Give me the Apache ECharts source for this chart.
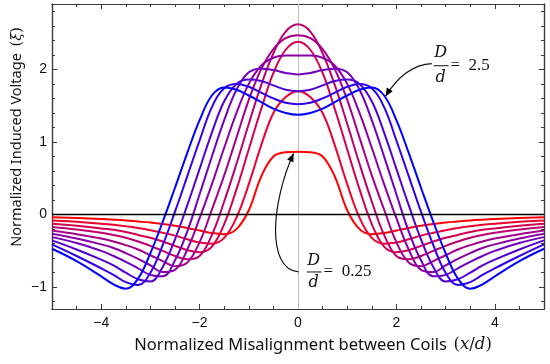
<!DOCTYPE html>
<html><head><meta charset="utf-8">
<script src="https://cdn.jsdelivr.net/npm/echarts@6/dist/echarts.min.js"></script>
<style>html,body{margin:0;padding:0;background:#fff}#c{width:550px;height:364px}</style>
</head><body><div id="c"></div>
<script>
// x positions (normalized misalignment x/d)
const xValues = [-5,-4.5,-4,-3.75,-3.5,-3.25,-3,-2.75,-2.5,-2.25,-2,-1.75,-1.5,-1.25,-1,-0.75,-0.5,-0.25,0,0.25,0.5,0.75,1,1.25,1.5,1.75,2,2.25,2.5,2.75,3,3.25,3.5,3.75,4,4.5,5];
const ratios = ['0.25','0.5','0.75','1.0','1.25','1.5','1.75','2.0','2.25','2.5'];
const curveD025 = [-0.035,-0.047,-0.062,-0.07,-0.08,-0.095,-0.11,-0.13,-0.155,-0.185,-0.22,-0.255,-0.27,-0.20,0.06,0.52,0.80,0.86,0.865,0.86,0.80,0.52,0.06,-0.20,-0.27,-0.255,-0.22,-0.185,-0.155,-0.13,-0.11,-0.095,-0.08,-0.07,-0.062,-0.047,-0.035];
const curveD050 = [-0.08,-0.10,-0.125,-0.14,-0.16,-0.185,-0.215,-0.25,-0.29,-0.34,-0.385,-0.40,-0.32,-0.04,0.42,0.95,1.40,1.62,1.70,1.62,1.40,0.95,0.42,-0.04,-0.32,-0.40,-0.385,-0.34,-0.29,-0.25,-0.215,-0.185,-0.16,-0.14,-0.125,-0.10,-0.08];
const curveD075 = [-0.125,-0.155,-0.19,-0.21,-0.24,-0.28,-0.32,-0.37,-0.43,-0.49,-0.52,-0.44,-0.13,0.35,0.90,1.45,1.95,2.27,2.38,2.27,1.95,1.45,0.90,0.35,-0.13,-0.44,-0.52,-0.49,-0.43,-0.37,-0.32,-0.28,-0.24,-0.21,-0.19,-0.155,-0.125];
const curveD100 = [-0.17,-0.205,-0.25,-0.28,-0.32,-0.37,-0.43,-0.50,-0.57,-0.615,-0.57,-0.28,0.18,0.70,1.25,1.78,2.22,2.52,2.62,2.52,2.22,1.78,1.25,0.70,0.18,-0.28,-0.57,-0.615,-0.57,-0.50,-0.43,-0.37,-0.32,-0.28,-0.25,-0.205,-0.17];
const curveD125 = [-0.22,-0.27,-0.33,-0.37,-0.42,-0.48,-0.56,-0.64,-0.71,-0.66,-0.38,0.07,0.54,1.06,1.58,2.00,2.28,2.43,2.47,2.43,2.28,2.00,1.58,1.06,0.54,0.07,-0.38,-0.66,-0.71,-0.64,-0.56,-0.48,-0.42,-0.37,-0.33,-0.27,-0.22];
const curveD150 = [-0.265,-0.33,-0.41,-0.46,-0.53,-0.61,-0.70,-0.79,-0.76,-0.48,-0.05,0.42,0.92,1.40,1.80,2.05,2.16,2.19,2.19,2.19,2.16,2.05,1.80,1.40,0.92,0.42,-0.05,-0.48,-0.76,-0.79,-0.70,-0.61,-0.53,-0.46,-0.41,-0.33,-0.265];
const curveD175 = [-0.31,-0.39,-0.50,-0.57,-0.65,-0.74,-0.83,-0.85,-0.63,-0.23,0.28,0.80,1.30,1.72,1.96,2.01,1.99,1.95,1.93,1.95,1.99,2.01,1.96,1.72,1.30,0.80,0.28,-0.23,-0.63,-0.85,-0.83,-0.74,-0.65,-0.57,-0.50,-0.39,-0.31];
const curveD200 = [-0.355,-0.48,-0.62,-0.70,-0.80,-0.89,-0.92,-0.72,-0.34,0.13,0.63,1.13,1.56,1.80,1.86,1.84,1.78,1.72,1.70,1.72,1.78,1.84,1.86,1.80,1.56,1.13,0.63,0.13,-0.34,-0.72,-0.92,-0.89,-0.80,-0.70,-0.62,-0.48,-0.355];
const curveD225 = [-0.41,-0.57,-0.74,-0.83,-0.93,-0.97,-0.80,-0.42,0.04,0.53,1.02,1.48,1.74,1.80,1.76,1.68,1.60,1.54,1.52,1.54,1.60,1.68,1.76,1.80,1.74,1.48,1.02,0.53,0.04,-0.42,-0.80,-0.97,-0.93,-0.83,-0.74,-0.57,-0.41];
const curveD250 = [-0.47,-0.64,-0.85,-0.96,-1.02,-0.88,-0.53,-0.10,0.37,0.85,1.30,1.64,1.75,1.72,1.64,1.55,1.46,1.40,1.375,1.40,1.46,1.55,1.64,1.72,1.75,1.64,1.30,0.85,0.37,-0.10,-0.53,-0.88,-1.02,-0.96,-0.85,-0.64,-0.47];
const curves = [curveD025,curveD050,curveD075,curveD100,curveD125,curveD150,curveD175,curveD200,curveD225,curveD250];
const colors = ['#ff0000','#ea0031','#d30052','#bc0070','#a4008b','#8b00a4','#7000bc','#5200d3','#3100ea','#0000ff'];
const xTickLabels = [-4,-2,0,2,4];
const yTickLabels = [-1,0,1,2];

const xMinor = []; for (let i=-10;i<=10;i++) xMinor.push(i/2);
const yMinor = []; for (let i=-6;i<=14;i++) yMinor.push(Math.round(i*0.2*10)/10);
const fmt = v => v < 0 ? '\u2212' + Math.abs(v) : String(v);
const axisColor = '#3a3a3a';

function xAx(pos, ticks, len, labels) {
  return {type:'value', position:pos, min:-5, max:5, gridIndex:0,
    axisLine:{show:true, onZero:false, lineStyle:{color:axisColor, width:1.2}},
    axisTick:{show:true, inside:true, length:len, customValues:ticks, lineStyle:{color:axisColor, width:1}},
    axisLabel: labels ? {show:true, customValues:labels, formatter:fmt, fontFamily:'Liberation Sans, Arial', fontSize:14, color:'#111', margin:7} : {show:false},
    splitLine:{show:false}};
}
function yAx(pos, ticks, len, labels) {
  return {type:'value', position:pos, min:-1.3, max:2.9, gridIndex:0,
    axisLine:{show:true, onZero:false, lineStyle:{color:axisColor, width:1.2}},
    axisTick:{show:true, inside:true, length:len, customValues:ticks, lineStyle:{color:axisColor, width:1}},
    axisLabel: labels ? {show:true, customValues:labels, formatter:fmt, fontFamily:'Liberation Sans, Arial', fontSize:14, color:'#111', margin:5} : {show:false},
    splitLine:{show:false}};
}

const series = curves.map((c, i) => ({
  type:'line', name:'D/d = ' + ratios[i], xAxisIndex:0, yAxisIndex:0,
  data: xValues.map((x, k) => [x, c[k]]),
  smooth:0.4, symbol:'none', silent:true,
  lineStyle:{color:colors[i], width:2},
  z: 3
}));
series[0].markLine = {silent:true, symbol:['none','none'], z:1, label:{show:false},
  lineStyle:{color:'#bdbdbd', width:1, type:'solid'}, data:[{xAxis:0}]};
series[9].markLine = {silent:true, symbol:['none','none'], z:6, label:{show:false},
  lineStyle:{color:'#000', width:1.3, type:'solid'}, data:[{yAxis:0}]};

const chart = echarts.init(document.getElementById('c'), null, {renderer:'canvas'});
chart.setOption({
  animation:false,
  backgroundColor:'#fff',
  grid:{left:52, top:4, width:492, height:305, containLabel:false},
  xAxis:[xAx('bottom', xTickLabels, 5, xTickLabels), xAx('bottom', xMinor, 3, null), xAx('top', xTickLabels, 5, null), xAx('top', xMinor, 3, null)],
  yAxis:[yAx('left', yTickLabels, 5, yTickLabels), yAx('left', yMinor, 3, null), yAx('right', yTickLabels, 5, null), yAx('right', yMinor, 3, null)],
  series: series
});

function P(x, y) { return chart.convertToPixel({xAxisIndex:0, yAxisIndex:0}, [x, y]); }
function arrowHead(tip, from, len, w) {
  const dx = tip[0]-from[0], dy = tip[1]-from[1];
  const L = Math.sqrt(dx*dx+dy*dy); const ux = dx/L, uy = dy/L;
  const bx = tip[0]-ux*len, by = tip[1]-uy*len;
  return {type:'polygon', silent:true, z:20, shape:{points:[tip,[bx-uy*w, by+ux*w],[bx+uy*w, by-ux*w]]}, style:{fill:'#000'}};
}
function fraction(cx, yD, yBar, yd, xEq, value) {
  const ital = {fontFamily:'DejaVu Serif, Liberation Serif, serif', fontStyle:'italic', fontSize:16, fill:'#111'};
  return [
    {type:'text', silent:true, z:20, style:Object.assign({text:'D', x:cx, y:yD, align:'center', verticalAlign:'middle'}, ital)},
    {type:'line', silent:true, z:20, shape:{x1:cx-7, y1:yBar, x2:cx+8, y2:yBar}, style:{stroke:'#111', lineWidth:1}},
    {type:'text', silent:true, z:20, style:Object.assign({text:'d', x:cx, y:yd, align:'center', verticalAlign:'middle'}, ital)},
    {type:'text', silent:true, z:20, style:{text:'=  ' + value, x:xEq, y:yBar, align:'left', verticalAlign:'middle', fontFamily:'Liberation Serif, serif', fontSize:17, fill:'#111'}}
  ];
}

// annotation anchors in data coordinates
const a1Start = P(2.72, 2.08), a1Ctrl = P(2.17, 2.06), a1Tip = P(1.78, 1.63);
const a2Start = P(0.01, -0.79), a2C1 = P(-0.66, -0.745), a2C2 = P(-0.53, 0.19), a2Tip = P(-0.09, 0.84);
const f1c = P(2.90, 2.05), f1D = P(2.90, 2.23), f1d = P(2.90, 1.89), f1eq = P(3.10, 2.05);
const f2c = P(0.32, -0.79), f2D = P(0.32, -0.63), f2d = P(0.32, -0.94), f2eq = P(0.52, -0.79);

const g = [];
g.push({type:'bezierCurve', silent:true, z:20, shape:{x1:a1Start[0], y1:a1Start[1], cpx1:a1Ctrl[0], cpy1:a1Ctrl[1], x2:a1Tip[0], y2:a1Tip[1]}, style:{stroke:'#111', lineWidth:1.2, fill:null}});
g.push(arrowHead(a1Tip, a1Ctrl, 8, 3.5));
g.push({type:'bezierCurve', silent:true, z:20, shape:{x1:a2Start[0], y1:a2Start[1], cpx1:a2C1[0], cpy1:a2C1[1], cpx2:a2C2[0], cpy2:a2C2[1], x2:a2Tip[0], y2:a2Tip[1]}, style:{stroke:'#111', lineWidth:1.2, fill:null}});
g.push(arrowHead(a2Tip, a2C2, 8, 3.5));
fraction(f1c[0], f1D[1], f1c[1], f1d[1], f1eq[0], '2.5').forEach(e => g.push(e));
fraction(f2c[0], f2D[1], f2c[1], f2d[1], f2eq[0], '0.25').forEach(e => g.push(e));

function nameRich(sz) {
  return {
    a:{fontFamily:'Noto Sans, Open Sans, sans-serif', fontSize:sz, fill:'#111'},
    m:{fontFamily:'DejaVu Serif, serif', fontSize:sz, fill:'#111'},
    i:{fontFamily:'DejaVu Serif, serif', fontStyle:'italic', fontSize:sz, fill:'#111'}
  };
}
g.push({type:'text', silent:true, z:20, x:313, y:345, style:{text:'{a|Normalized Misalignment between Coils}  {m|(}{i|x}{m|/}{i|d}{m|)}', align:'center', verticalAlign:'middle', rich:nameRich(16.5)}});
g.push({type:'text', silent:true, z:20, x:17, y:137, rotation:Math.PI/2, style:{text:'{a|Normalized Induced Voltage}  {m|(}{i|ξ}{m|)}', align:'center', verticalAlign:'middle', rich:nameRich(14.5)}});

chart.setOption({graphic:{elements:g}});
</script>
</body></html>
